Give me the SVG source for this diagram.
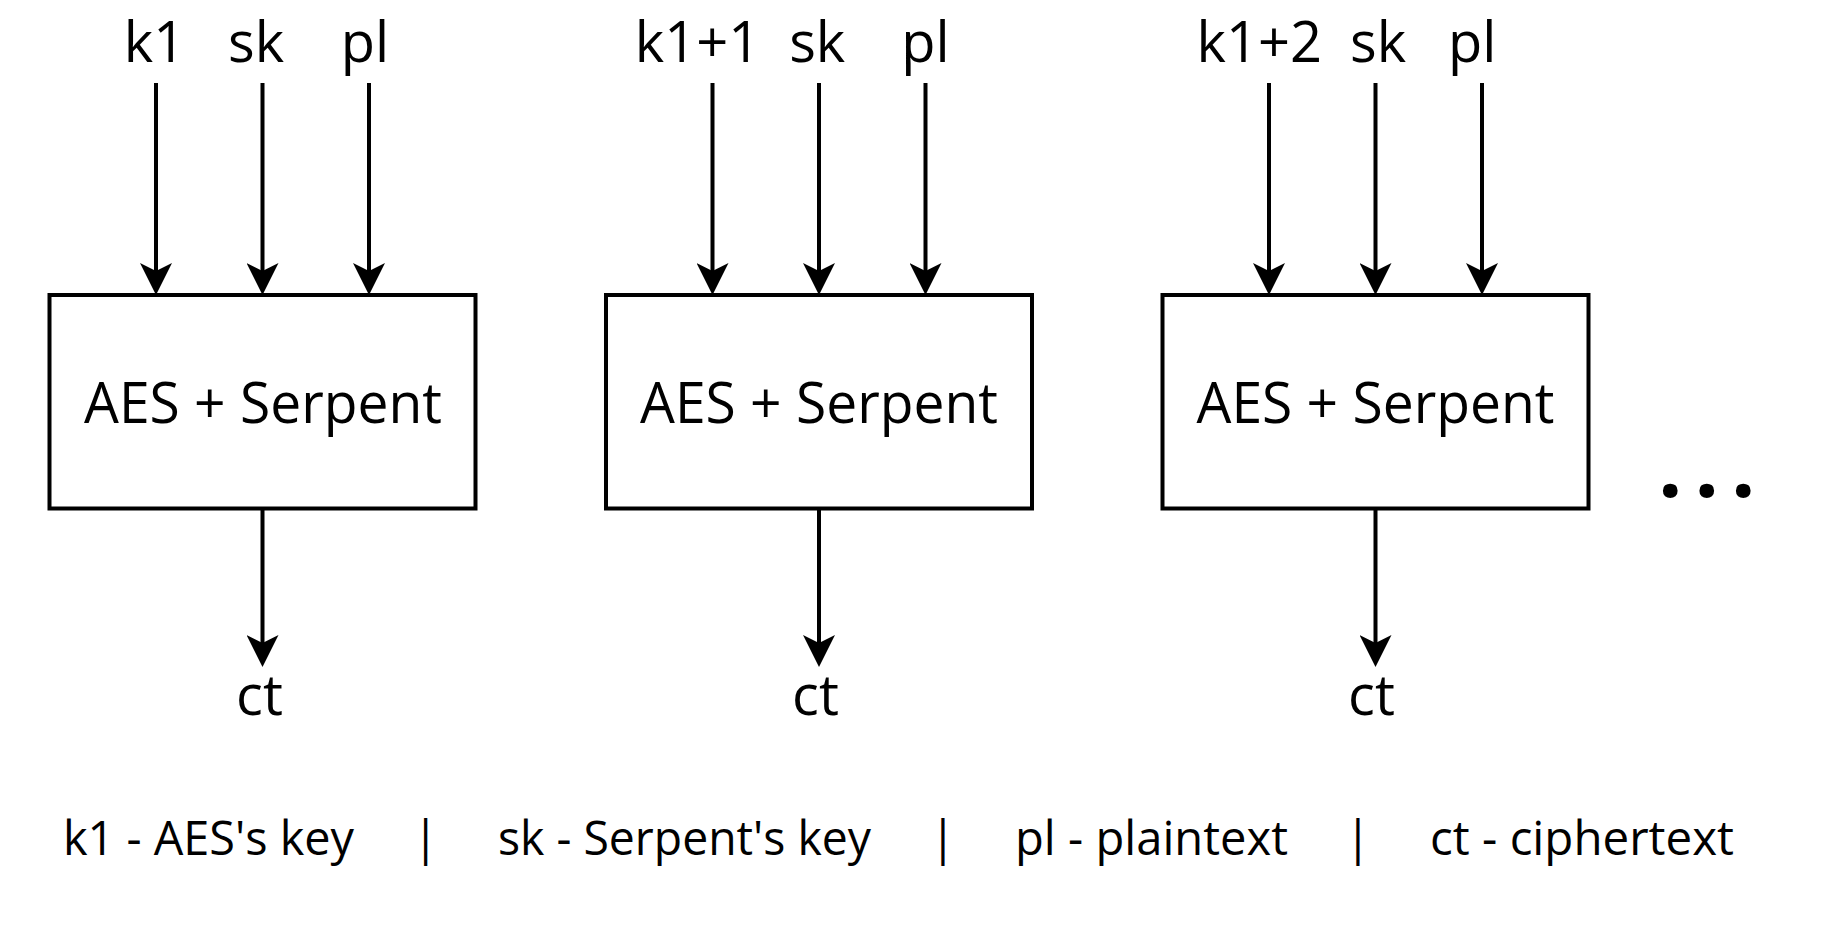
<svg xmlns="http://www.w3.org/2000/svg" width="1825" height="942" viewBox="0 0 1825 942">
<style>
  .box { fill: #ffffff; stroke: #000000; stroke-width: 4; }
  .lbl { font-family: "Open Sans", "Noto Sans", sans-serif; font-size: 56px; fill: #000000; }
  .leg { font-family: "Open Sans", "Noto Sans", sans-serif; font-size: 47px; fill: #000000; }
  .dots { font-family: "Open Sans", "Noto Sans", sans-serif; font-size: 86px; font-weight: bold; fill: #000000; letter-spacing: 12px; }
  .wire { fill: none; stroke: #000000; stroke-width: 4; marker-end: url(#arrow); }
</style>
<defs>
  <marker id="arrow" viewBox="0 0 32 32" markerWidth="32" markerHeight="32" markerUnits="userSpaceOnUse" refX="8" refY="16" orient="auto">
    <path d="M0,0 L32,16 L0,32 L8,16 Z" fill="#000000"/>
  </marker>
</defs>
<rect x="0" y="0" width="1825" height="942" fill="#ffffff"/>

<g id="connectors">
  <line class="wire" x1="156" y1="83" x2="156" y2="271"/>
  <line class="wire" x1="262.5" y1="83" x2="262.5" y2="271"/>
  <line class="wire" x1="369" y1="83" x2="369" y2="271"/>
  <line class="wire" x1="262.5" y1="509" x2="262.5" y2="643"/>

  <line class="wire" x1="712.5" y1="83" x2="712.5" y2="271"/>
  <line class="wire" x1="819" y1="83" x2="819" y2="271"/>
  <line class="wire" x1="925.5" y1="83" x2="925.5" y2="271"/>
  <line class="wire" x1="819" y1="509" x2="819" y2="643"/>

  <line class="wire" x1="1269" y1="83" x2="1269" y2="271"/>
  <line class="wire" x1="1375.5" y1="83" x2="1375.5" y2="271"/>
  <line class="wire" x1="1482" y1="83" x2="1482" y2="271"/>
  <line class="wire" x1="1375.5" y1="509" x2="1375.5" y2="643"/>
</g>

<g id="block1">
  <rect class="box" x="49.5" y="295" width="426" height="213.5"/>
  <text class="lbl" x="263" y="423" text-anchor="middle" textLength="358" lengthAdjust="spacingAndGlyphs">AES + Serpent</text>
</g>
<g id="block2">
  <rect class="box" x="606" y="295" width="426" height="213.5"/>
  <text class="lbl" x="819" y="423" text-anchor="middle" textLength="358" lengthAdjust="spacingAndGlyphs">AES + Serpent</text>
</g>
<g id="block3">
  <rect class="box" x="1162.5" y="295" width="426" height="213.5"/>
  <text class="lbl" x="1375.5" y="423" text-anchor="middle" textLength="358" lengthAdjust="spacingAndGlyphs">AES + Serpent</text>
</g>

<g id="inputs1">
  <text class="lbl" x="154.5" y="62" text-anchor="middle">k1</text>
  <text class="lbl" x="256" y="62" text-anchor="middle">sk</text>
  <text class="lbl" x="365" y="62" text-anchor="middle">pl</text>
</g>
<g id="inputs2">
  <text class="lbl" x="697.5" y="62" text-anchor="middle">k1+1</text>
  <text class="lbl" x="817.2" y="62" text-anchor="middle">sk</text>
  <text class="lbl" x="925.5" y="62" text-anchor="middle">pl</text>
</g>
<g id="inputs3">
  <text class="lbl" x="1259.2" y="62" text-anchor="middle">k1+2</text>
  <text class="lbl" x="1378" y="62" text-anchor="middle">sk</text>
  <text class="lbl" x="1472.2" y="62" text-anchor="middle">pl</text>
</g>

<g id="outputs">
  <text class="lbl" x="259.5" y="715" text-anchor="middle">ct</text>
  <text class="lbl" x="815.5" y="715" text-anchor="middle">ct</text>
  <text class="lbl" x="1371.5" y="715" text-anchor="middle">ct</text>
</g>

<g id="ellipsis">
  <text class="dots" x="1658" y="497">...</text>
</g>

<g id="legend">
  <text class="leg" x="63" y="855" textLength="291" lengthAdjust="spacingAndGlyphs">k1 - AES's key</text>
  <text class="leg" x="425.7" y="855" text-anchor="middle">|</text>
  <text class="leg" x="498" y="855" textLength="373" lengthAdjust="spacingAndGlyphs">sk - Serpent's key</text>
  <text class="leg" x="943" y="855" text-anchor="middle">|</text>
  <text class="leg" x="1015" y="855" textLength="273" lengthAdjust="spacingAndGlyphs">pl - plaintext</text>
  <text class="leg" x="1358" y="855" text-anchor="middle">|</text>
  <text class="leg" x="1430" y="855" textLength="304" lengthAdjust="spacingAndGlyphs">ct - ciphertext</text>
</g>
</svg>
